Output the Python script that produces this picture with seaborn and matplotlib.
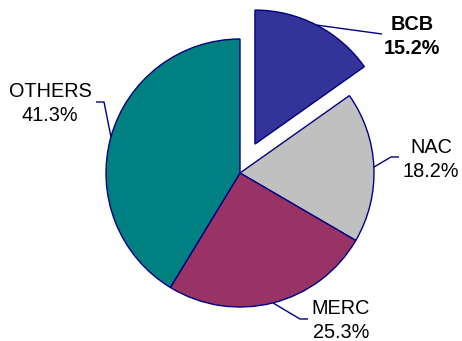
import matplotlib
matplotlib.use("Agg")
import matplotlib.pyplot as plt
import numpy as np
import seaborn as sns

sns.set_style("white")
plt.rcParams["font.family"] = ["Liberation Sans", "DejaVu Sans"]

# Market share by company
labels = ["BCB", "NAC", "MERC", "OTHERS"]
shares = [15.2, 18.2, 25.3, 41.3]
colors = ["#333399", "#C0C0C0", "#993366", "#008080"]
explode = [0.243, 0, 0, 0]
bold = [True, False, False, False]

W, H, DPI = 462, 341, 100
fig = plt.figure(figsize=(W / DPI, H / DPI), dpi=DPI)
ax = fig.add_axes([0, 0, 1, 1])

# pixel geometry of the pie (center and radius)
cx, cy, R = 240, 173, 134


def to_data(px, py):
    return (px - cx) / R, (cy - py) / R


wedges, _ = ax.pie(
    shares,
    colors=colors,
    explode=explode,
    startangle=90,
    counterclock=False,
    radius=1,
    center=(0, 0),
    wedgeprops=dict(edgecolor="#000080", linewidth=1.0),
    frame=True,
)
ax.set_xlim(-cx / R, (W - cx) / R)
ax.set_ylim(-(H - cy) / R, cy / R)
ax.set_aspect("auto")
ax.axis("off")

# leader-line elbows and label block centres (pixels)
elbows = [
    [(382, 34)],
    [(391, 157), (399, 157)],
    [(300, 319), (308, 319)],
    [(104, 102), (96, 102)],
]
text_pos = [(412, 35), (431, 158), (341, 318), (50, 102)]
half_gap = 12  # pixels between block centre and each line's centre

for w, lab, val, el, tp, b, ex in zip(wedges, labels, shares, elbows, text_pos, bold, explode):
    mid = np.deg2rad((w.theta1 + w.theta2) / 2)
    r = 1 + ex
    ax_pt = (r * np.cos(mid), r * np.sin(mid))
    pts = [ax_pt] + [to_data(*p) for p in el]
    xs, ys = zip(*pts)
    ax.plot(xs, ys, color="#000080", linewidth=1.0, solid_capstyle="butt")
    weight = "bold" if b else "normal"
    for line, dy in ((lab, -half_gap), (f"{val:.1f}%", half_gap)):
        tx, ty = to_data(tp[0], tp[1] + dy)
        ax.text(tx, ty, line, ha="center", va="center_baseline",
                fontsize=14.3, fontweight=weight, color="black")

fig.savefig("out.png", dpi=DPI, facecolor="white")
